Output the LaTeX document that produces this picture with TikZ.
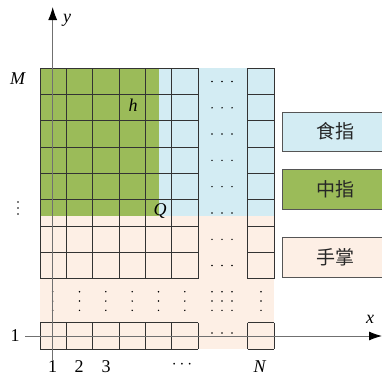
\documentclass[tikz,border=0pt]{standalone}
\usepackage{fontspec}
\setmainfont{Liberation Serif}
\newfontfamily\cjk{Noto Sans CJK SC}
\usetikzlibrary{arrows.meta}
\definecolor{midgreen}{HTML}{9BBB59}
\definecolor{idxblue}{HTML}{D3ECF3}
\definecolor{palmpeach}{HTML}{FDEFE5}
\definecolor{gridline}{HTML}{333333}
\definecolor{axisgray}{HTML}{707070}
\definecolor{boxborder}{HTML}{555555}
\tikzset{
  gridstyle/.style={draw=gridline,line width=0.9pt},
  axisstyle/.style={draw=axisgray,line width=0.9pt,-{Latex[length=13pt,width=9pt,color=black]}},
  legendbox/.style={draw=boxborder,line width=0.9pt,minimum width=102pt,minimum height=39.5pt,anchor=north west,inner sep=0pt},
  legendtext/.style={font=\cjk\fontsize{19}{21}\selectfont,text=black!85},
  lab/.style={font=\fontsize{18}{20}\selectfont,inner sep=0pt}
}
\begin{document}
\begin{tikzpicture}[x=1pt,y=-1pt]
\useasboundingbox (0,0) rectangle (382,375);
% backgrounds
\fill[midgreen] (40,68.3) rectangle (158.7,216);
\fill[idxblue] (158.7,68.3) rectangle (274,216);
\fill[palmpeach] (40,216) rectangle (274,349.3);
% grid upper
\foreach \yy in {68.3,94.6,120.9,147.2,173.5,199.8,226.1,252.4,278.7}{
  \draw[gridstyle] (40,\yy) -- (198,\yy);
  \draw[gridstyle] (247.7,\yy) -- (274,\yy);
}
\foreach \xx in {40,66.3,92.7,119,145.3,171.7,198,247.7,274}{
  \draw[gridstyle] (\xx,68.3) -- (\xx,278.7);
  \draw[gridstyle] (\xx,322.7) -- (\xx,349.3);
}
\foreach \yy in {322.7,349.3}{
  \draw[gridstyle] (40,\yy) -- (198,\yy);
  \draw[gridstyle] (247.7,\yy) -- (274,\yy);
}
% dots in gap column
\foreach \yy in {81.5,107.8,134,160.4,186.6,213,239.3,265.5,333}{
  \foreach \xx in {212,222,232}{
    \fill (\xx,\yy) circle (0.8);
  }
}
% dots band
\foreach \xx in {52.7,79.5,105.8,132.2,158.5,184.8,212,222,232,261}{
  \foreach \yy in {291.7,301,310.3}{
    \fill (\xx,\yy) circle (0.8);
  }
}
% left vertical dots
\foreach \yy in {202,208,214}{
  \fill (18,\yy) circle (0.9);
}
% axes
\coordinate (ybot) at (52.7,360);
\coordinate (ytop) at (52.7,7);
\coordinate (xleft) at (25,336);
\coordinate (xright) at (382,336);
\draw[axisstyle] (ybot) -- (ytop);
\draw[axisstyle] (xleft) -- (xright);
% labels
\node[lab] (ylab) at (67,20) {\textit{y}};
\node[lab] (xlab) at (370,319) {\textit{x}};
\node[lab] (mlab) at (18,79) {\textit{M}};
\node[lab] (onel) at (15,336) {1};
\node[lab] (hlab) at (133,105) {\textit{h}};
\node[lab] (qlab) at (160,211) {\textit{Q}};
\node[lab] (c1) at (52.7,366.5) {1};
\node[lab] (c2) at (79,366.5) {2};
\node[lab] (c3) at (106,366.5) {3};
\node[lab] (cdots) at (182,365) {$\cdots$};
\node[lab] (cn) at (260,366.5) {\textit{N}};
% legend
\node[legendbox,fill=idxblue] (bindex) at (281.7,111.7) {};
\node[legendtext] (tindex) at (335,131) {食指};
\node[legendbox,fill=midgreen] (bmid) at (281.7,169.3) {};
\node[legendtext] (tmid) at (335,189) {中指};
\node[legendbox,fill=palmpeach] (bpalm) at (281.7,237.3) {};
\node[legendtext] (tpalm) at (335,257) {手掌};
\end{tikzpicture}
\end{document}
